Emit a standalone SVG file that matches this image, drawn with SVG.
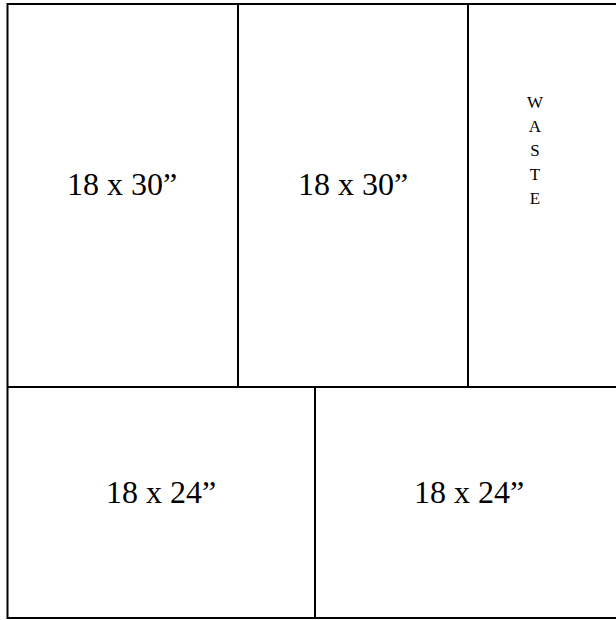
<svg xmlns="http://www.w3.org/2000/svg" width="616" height="620" viewBox="0 0 616 620">
<style>
.ln{stroke:#000;stroke-width:2;fill:none}
.lb{font-family:"Liberation Serif","Times New Roman",serif;font-size:32px;fill:#000;text-anchor:middle}
.w{font-family:"Liberation Serif","Times New Roman",serif;font-size:17px;fill:#000;text-anchor:middle}
</style>
<rect width="616" height="620" fill="#fff"/>
<g id="connectors">
<rect class="ln" x="7.5" y="4" width="620" height="614"/>
<line class="ln" x1="7.5" y1="387" x2="627" y2="387"/>
<line class="ln" x1="238" y1="4" x2="238" y2="387"/>
<line class="ln" x1="468" y1="4" x2="468" y2="387"/>
<line class="ln" x1="315" y1="387" x2="315" y2="618"/>
</g>
<g id="panel1"><text class="lb" x="122" y="195">18 x 30”</text></g>
<g id="panel2"><text class="lb" x="353" y="195">18 x 30”</text></g>
<g id="waste"><text class="w" x="535" y="108">W</text><text class="w" x="535" y="132">A</text><text class="w" x="535" y="156">S</text><text class="w" x="535" y="180">T</text><text class="w" x="535" y="204">E</text></g>
<g id="panel3"><text class="lb" x="161" y="503">18 x 24”</text></g>
<g id="panel4"><text class="lb" x="469" y="503">18 x 24”</text></g>
</svg>
